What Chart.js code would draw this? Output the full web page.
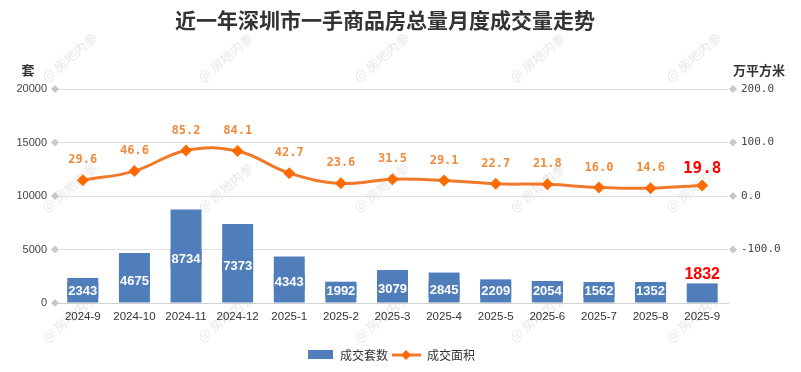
<!DOCTYPE html>
<html>
<head>
<meta charset="utf-8">
<script src="https://cdn.jsdelivr.net/npm/chart.js@4"></script>
<style>
  html, body { margin: 0; padding: 0; background: #fff; }
  #wrap { width: 801px; height: 372px; position: relative; }
</style>
</head>
<body>
<div id="wrap"><canvas id="grafico" width="801" height="372"></canvas></div>
<script>
// datos del gráfico
const meses = ['2024-9', '2024-10', '2024-11', '2024-12', '2025-1', '2025-2', '2025-3',
  '2025-4', '2025-5', '2025-6', '2025-7', '2025-8', '2025-9'];
const taoshu = [2343, 4675, 8734, 7373, 4343, 1992, 3079, 2845, 2209, 2054, 1562, 1352, 1832];
const mianji = [29.6, 46.6, 85.2, 84.1, 42.7, 23.6, 31.5, 29.1, 22.7, 21.8, 16.0, 14.6, 19.8];
const tituloTexto = '近一年深圳市一手商品房总量月度成交量走势';
const leyenda = ['成交套数', '成交面积'];

const AZUL = '#4f7ebb';
const NARANJA = '#f07a2a';
const CJK = '"Noto Sans CJK SC", "Noto Sans", sans-serif';

// título, marca de agua, unidades y leyenda
const decoracion = {
  id: 'decoracion',
  beforeDraw(chart) {
    const ctx = chart.ctx;
    ctx.save();
    ctx.fillStyle = 'rgba(175,175,175,0.3)';
    ctx.font = '13px ' + CJK;
    for (let y = 83; y < 400; y += 130) {
      for (let x = -109; x < 820; x += 156) {
        ctx.save();
        ctx.translate(x, y);
        ctx.rotate(-0.7);
        ctx.fillText('@ 房地内参', 0, 0);
        ctx.restore();
      }
    }
    ctx.restore();
  },
  afterDraw(chart) {
    const ctx = chart.ctx;
    ctx.save();
    ctx.fillStyle = '#333';
    ctx.textAlign = 'center';
    ctx.textBaseline = 'middle';
    ctx.font = 'bold 21px ' + CJK;
    ctx.fillText(tituloTexto, 385, 20);
    ctx.font = 'bold 13px ' + CJK;
    ctx.fillText('套', 28, 70);
    ctx.fillText('万平方米', 759, 70);

    // leyenda
    ctx.font = '12px ' + CJK;
    ctx.textAlign = 'left';
    ctx.fillStyle = AZUL;
    ctx.fillRect(308, 350, 25, 9);
    ctx.fillStyle = '#333';
    ctx.fillText(leyenda[0], 340, 355);
    ctx.strokeStyle = NARANJA;
    ctx.lineWidth = 3;
    ctx.beginPath();
    ctx.moveTo(392, 355);
    ctx.lineTo(421, 355);
    ctx.stroke();
    ctx.fillStyle = '#ff6a00';
    ctx.beginPath();
    ctx.moveTo(406, 350); ctx.lineTo(411, 355); ctx.lineTo(406, 360); ctx.lineTo(401, 355);
    ctx.closePath();
    ctx.fill();
    ctx.fillStyle = '#333';
    ctx.fillText(leyenda[1], 427, 355);

    // rombos en los ejes
    ctx.fillStyle = '#c8c8c8';
    const rombo = (x, y) => {
      ctx.beginPath();
      ctx.moveTo(x, y - 4); ctx.lineTo(x + 4, y); ctx.lineTo(x, y + 4); ctx.lineTo(x - 4, y);
      ctx.closePath();
      ctx.fill();
    };
    const yL = chart.scales.y, yR = chart.scales.y1;
    yL.ticks.forEach(t => rombo(chart.chartArea.left - 2, yL.getPixelForValue(t.value)));
    yR.ticks.forEach(t => { if (t.value > -200) rombo(chart.chartArea.right + 5, yR.getPixelForValue(t.value)); });
    ctx.restore();
  },
  afterDatasetsDraw(chart) {
    const ctx = chart.ctx;
    ctx.save();
    ctx.textAlign = 'center';
    ctx.textBaseline = 'middle';
    const barras = chart.getDatasetMeta(1).data;
    const base = chart.scales.y.getPixelForValue(0);
    barras.forEach((b, i) => {
      const txt = String(taoshu[i]);
      if (i === barras.length - 1) {
        ctx.font = 'bold 16px "Liberation Sans", Arial, sans-serif';
        ctx.fillStyle = '#ff0000';
        ctx.fillText(txt, b.x, b.y - 9);
        return;
      }
      ctx.font = 'bold 13px "Liberation Sans", Arial, sans-serif';
      const w = ctx.measureText(txt).width;
      let cy = (b.y + base) / 2 + 2;
      if (cy > base - 13) cy = base - 13;
      ctx.fillStyle = AZUL;
      ctx.fillRect(b.x - w / 2 - 1, cy - 8, w + 2, 16);
      ctx.fillStyle = '#fff';
      ctx.fillText(txt, b.x, cy + 1);
    });
    const puntos = chart.getDatasetMeta(0).data;
    puntos.forEach((p, i) => {
      const txt = mianji[i].toFixed(1);
      if (i === puntos.length - 1) {
        ctx.font = 'bold 16px "DejaVu Sans Mono", monospace';
        ctx.fillStyle = '#ff0000';
        ctx.fillText(txt, p.x, p.y - 17);
      } else {
        ctx.font = 'bold 12px "DejaVu Sans Mono", monospace';
        ctx.fillStyle = '#f08a3c';
        ctx.fillText(txt, p.x, p.y - 20);
      }
    });
    ctx.restore();
  }
};

const ctx = document.getElementById('grafico').getContext('2d');
new Chart(ctx, {
  type: 'bar',
  data: {
    labels: meses,
    datasets: [{
      type: 'line',
      label: leyenda[1],
      data: mianji,
      yAxisID: 'y1',
      borderColor: NARANJA,
      borderWidth: 3,
      tension: 0.4,
      pointStyle: 'rectRot',
      pointRadius: 6,
      pointBackgroundColor: '#ff6a00',
      pointBorderWidth: 0,
      order: 0
    }, {
      label: leyenda[0],
      data: taoshu,
      yAxisID: 'y',
      backgroundColor: AZUL,
      barPercentage: 0.6,
      categoryPercentage: 1,
      order: 1
    }]
  },
  options: {
    responsive: false,
    animation: false,
    layout: { padding: { top: 89, left: 0, right: 0, bottom: 0 } },
    plugins: {
      legend: { display: false },
      tooltip: { enabled: false }
    },
    scales: {
      x: {
        grid: { display: false, drawTicks: false },
        border: { color: '#d0d0d0' },
        ticks: { color: '#333', font: { size: 11.5, family: '"Liberation Sans", Arial, sans-serif' }, padding: 7, maxRotation: 0, autoSkip: false },
        afterFit(s) { s.height = 69; }
      },
      y: {
        position: 'left',
        min: 0, max: 20000,
        ticks: {
          stepSize: 5000, color: '#444', padding: 10,
          font: { size: 11, family: '"Liberation Sans", Arial, sans-serif' },
          callback: v => String(v)
        },
        grid: { color: '#e0e0e0', drawTicks: false },
        border: { display: false },
        afterFit(s) { s.width = 57; }
      },
      y1: {
        position: 'right',
        min: -200, max: 200,
        ticks: {
          stepSize: 100, color: '#444', padding: 13,
          font: { size: 11, family: '"DejaVu Sans Mono", monospace' },
          callback: v => v === -200 ? '' : v.toFixed(1)
        },
        grid: { display: false, drawTicks: false },
        border: { display: false },
        afterFit(s) { s.width = 73; }
      }
    }
  },
  plugins: [decoracion]
});
</script>
</body>
</html>
